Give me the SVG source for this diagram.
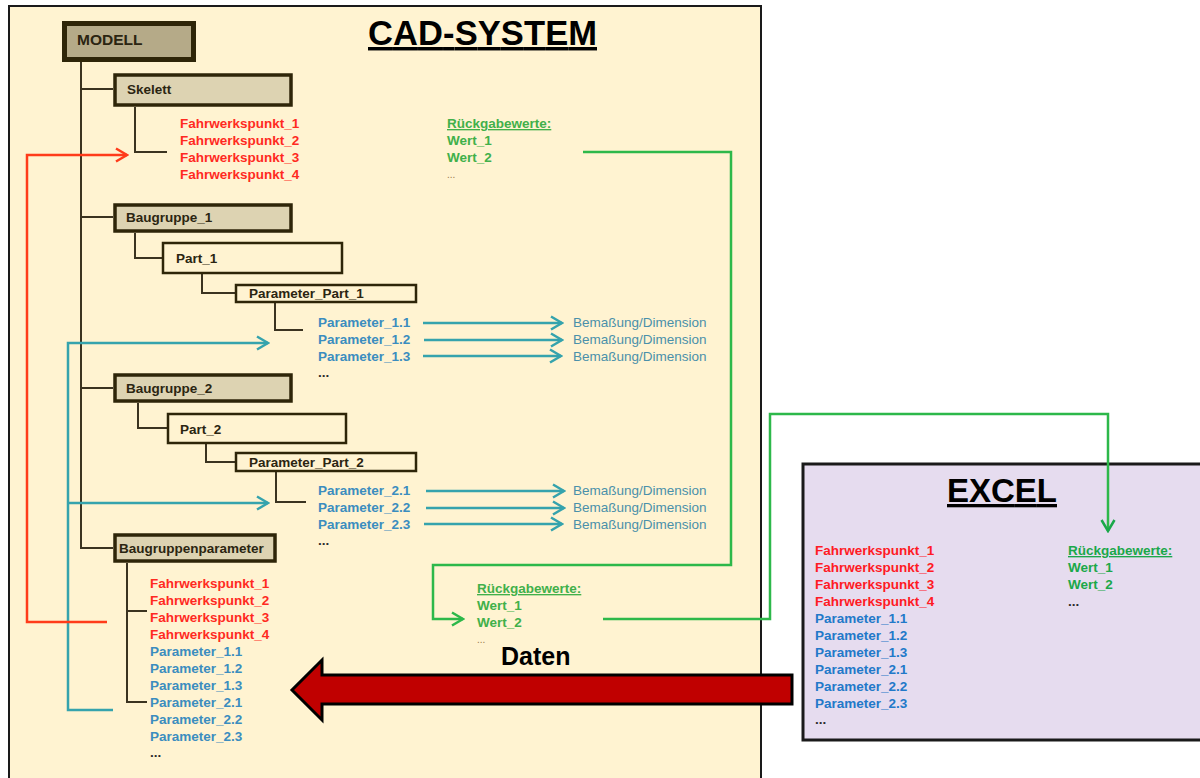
<svg xmlns="http://www.w3.org/2000/svg" width="1200" height="778" viewBox="0 0 1200 778">
<style>
  text { font-family: "Liberation Sans", Arial, sans-serif; }
  .bt { font-size: 13.5px; font-weight: bold; fill: #2b2511; }
  .tree { fill: none; stroke: #3b3320; stroke-width: 2; }
  .red { font-size: 13.5px; font-weight: bold; fill: #ff2a1f; }
  .par { font-size: 13.5px; font-weight: bold; fill: #3b8dbf; }
  .dim { font-size: 13.5px; fill: #4a90aa; }
  .grn { font-size: 13.5px; font-weight: bold; fill: #41b04a; }
  .xred { font-size: 13.5px; font-weight: bold; fill: #ff1a24; }
  .xpar { font-size: 13.5px; font-weight: bold; fill: #2279c9; }
  .xgrn { font-size: 13.5px; font-weight: bold; fill: #1ba84a; }
  .dots { font-size: 13.5px; font-weight: bold; fill: #2b2b2b; }
  .sdots { font-size: 10px; fill: #9a7a4a; }
  .cT { fill: none; stroke: #35a3ad; stroke-width: 2.5; }
  .cR { fill: none; stroke: #ff3b1a; stroke-width: 2.5; }
  .cG { fill: none; stroke: #2db84a; stroke-width: 2.5; }
</style>
<defs>
  <marker id="mT" viewBox="0 0 14 16" refX="12.5" refY="8" markerWidth="14" markerHeight="16" orient="auto" markerUnits="userSpaceOnUse">
    <path d="M1.5,1.5 L12.5,8 L1.5,14.5" fill="none" stroke="#35a3ad" stroke-width="2.5"/>
  </marker>
  <marker id="mR" viewBox="0 0 14 16" refX="12.5" refY="8" markerWidth="14" markerHeight="16" orient="auto" markerUnits="userSpaceOnUse">
    <path d="M1.5,1.5 L12.5,8 L1.5,14.5" fill="none" stroke="#ff3b1a" stroke-width="2.5"/>
  </marker>
  <marker id="mG" viewBox="0 0 14 16" refX="12.5" refY="8" markerWidth="14" markerHeight="16" orient="auto" markerUnits="userSpaceOnUse">
    <path d="M1.5,1.5 L12.5,8 L1.5,14.5" fill="none" stroke="#2db84a" stroke-width="2.5"/>
  </marker>
  <marker id="mG2" viewBox="0 0 14 16" refX="12.5" refY="8" markerWidth="14" markerHeight="16" orient="auto" markerUnits="userSpaceOnUse">
    <path d="M1.5,1.5 L12.5,8 L1.5,14.5" fill="none" stroke="#1aa84a" stroke-width="2.5"/>
  </marker>
</defs>

<rect width="1200" height="778" fill="#ffffff"/>

<!-- CAD system panel -->
<g id="cad-system">
  <rect x="9" y="6" width="752" height="790" fill="#fff3d1" stroke="#1a1a1a" stroke-width="2"/>
  <text x="368" y="45" font-size="34.5" font-weight="bold" fill="#000" text-decoration="underline" textLength="229">CAD-SYSTEM</text>
</g>

<!-- EXCEL panel -->
<g id="excel">
  <rect x="803" y="464" width="420" height="276" fill="#e6dcef" stroke="#1a1a1a" stroke-width="3"/>
  <text x="947" y="502" font-size="33" font-weight="bold" fill="#000" text-decoration="underline" textLength="110">EXCEL</text>
  <text class="xred" x="815" y="555">Fahrwerkspunkt_1</text>
  <text class="xred" x="815" y="572">Fahrwerkspunkt_2</text>
  <text class="xred" x="815" y="589">Fahrwerkspunkt_3</text>
  <text class="xred" x="815" y="606">Fahrwerkspunkt_4</text>
  <text class="xpar" x="815" y="623">Parameter_1.1</text>
  <text class="xpar" x="815" y="640">Parameter_1.2</text>
  <text class="xpar" x="815" y="657">Parameter_1.3</text>
  <text class="xpar" x="815" y="674">Parameter_2.1</text>
  <text class="xpar" x="815" y="691">Parameter_2.2</text>
  <text class="xpar" x="815" y="708">Parameter_2.3</text>
  <text class="dots" x="815" y="724">...</text>
  <text class="xgrn" x="1068" y="555" text-decoration="underline">Rückgabewerte:</text>
  <text class="xgrn" x="1068" y="572">Wert_1</text>
  <text class="xgrn" x="1068" y="589">Wert_2</text>
  <text class="dots" x="1068" y="606">...</text>
</g>

<!-- tree lines -->
<g id="tree-lines">
  <path class="tree" d="M81,62 V548 H113"/>
  <path class="tree" d="M81,89 H113"/>
  <path class="tree" d="M81,217 H113"/>
  <path class="tree" d="M81,388 H113"/>
  <path class="tree" d="M135,107 V152 H167"/>
  <path class="tree" d="M135,233 V258 H163"/>
  <path class="tree" d="M202,274 V293 H236"/>
  <path class="tree" d="M275,303 V330 H303"/>
  <path class="tree" d="M138,403 V428 H168"/>
  <path class="tree" d="M206,444 V462 H236"/>
  <path class="tree" d="M276,472 V502 H306"/>
  <path class="tree" d="M127,563 V702 H147"/>
  <path class="tree" d="M127,611 H147"/>
</g>

<!-- nodes -->
<g id="modell">
  <rect x="64.5" y="23.5" width="129" height="36" fill="#b5aa88" stroke="#2e2508" stroke-width="5"/>
  <text class="bt" x="77" y="45" style="font-size:15.5px">MODELL</text>
</g>
<g id="skelett">
  <rect x="115" y="75" width="176" height="30" fill="#ddd3b2" stroke="#2e2508" stroke-width="3.5"/>
  <text class="bt" x="127" y="94">Skelett</text>
</g>
<g id="skelett-items">
  <text class="red" x="180" y="128">Fahrwerkspunkt_1</text>
  <text class="red" x="180" y="145">Fahrwerkspunkt_2</text>
  <text class="red" x="180" y="162">Fahrwerkspunkt_3</text>
  <text class="red" x="180" y="179">Fahrwerkspunkt_4</text>
</g>
<g id="rueckgabe-top">
  <text class="grn" x="447" y="128" text-decoration="underline">Rückgabewerte:</text>
  <text class="grn" x="447" y="145">Wert_1</text>
  <text class="grn" x="447" y="162">Wert_2</text>
  <text class="sdots" x="447" y="178">...</text>
</g>
<g id="baugruppe1">
  <rect x="115" y="205" width="176" height="26" fill="#ddd3b2" stroke="#2e2508" stroke-width="3.5"/>
  <text class="bt" x="126" y="222">Baugruppe_1</text>
</g>
<g id="part1">
  <rect x="163" y="243" width="179" height="30" fill="#fff3d1" stroke="#2e2508" stroke-width="2.5"/>
  <text class="bt" x="176" y="263">Part_1</text>
</g>
<g id="parameter-part1">
  <rect x="236" y="285" width="180" height="17" fill="#fff3d1" stroke="#2e2508" stroke-width="2.5"/>
  <text class="bt" x="249" y="298">Parameter_Part_1</text>
</g>
<g id="params1">
  <text class="par" x="318" y="327">Parameter_1.1</text>
  <text class="par" x="318" y="344">Parameter_1.2</text>
  <text class="par" x="318" y="361">Parameter_1.3</text>
  <text class="dots" x="318" y="377">...</text>
  <text class="dim" x="573" y="327">Bemaßung/Dimension</text>
  <text class="dim" x="573" y="344">Bemaßung/Dimension</text>
  <text class="dim" x="573" y="361">Bemaßung/Dimension</text>
</g>
<g id="baugruppe2">
  <rect x="115" y="375" width="176" height="26" fill="#ddd3b2" stroke="#2e2508" stroke-width="3.5"/>
  <text class="bt" x="126" y="393">Baugruppe_2</text>
</g>
<g id="part2">
  <rect x="168" y="414" width="178" height="29" fill="#fff3d1" stroke="#2e2508" stroke-width="2.5"/>
  <text class="bt" x="180" y="434">Part_2</text>
</g>
<g id="parameter-part2">
  <rect x="236" y="453" width="180" height="18" fill="#fff3d1" stroke="#2e2508" stroke-width="2.5"/>
  <text class="bt" x="249" y="467">Parameter_Part_2</text>
</g>
<g id="params2">
  <text class="par" x="318" y="495">Parameter_2.1</text>
  <text class="par" x="318" y="512">Parameter_2.2</text>
  <text class="par" x="318" y="529">Parameter_2.3</text>
  <text class="dots" x="318" y="545">...</text>
  <text class="dim" x="573" y="495">Bemaßung/Dimension</text>
  <text class="dim" x="573" y="512">Bemaßung/Dimension</text>
  <text class="dim" x="573" y="529">Bemaßung/Dimension</text>
</g>
<g id="baugruppenparameter">
  <rect x="115" y="535" width="160" height="26" fill="#ddd3b2" stroke="#2e2508" stroke-width="3.5"/>
  <text class="bt" x="119" y="553">Baugruppenparameter</text>
</g>
<g id="bgp-items">
  <text class="red" x="150" y="588">Fahrwerkspunkt_1</text>
  <text class="red" x="150" y="605">Fahrwerkspunkt_2</text>
  <text class="red" x="150" y="622">Fahrwerkspunkt_3</text>
  <text class="red" x="150" y="639">Fahrwerkspunkt_4</text>
  <text class="par" x="150" y="656">Parameter_1.1</text>
  <text class="par" x="150" y="673">Parameter_1.2</text>
  <text class="par" x="150" y="690">Parameter_1.3</text>
  <text class="par" x="150" y="707">Parameter_2.1</text>
  <text class="par" x="150" y="724">Parameter_2.2</text>
  <text class="par" x="150" y="741">Parameter_2.3</text>
  <text class="dots" x="150" y="757">...</text>
</g>
<g id="rueckgabe-bottom">
  <text class="grn" x="477" y="593" text-decoration="underline">Rückgabewerte:</text>
  <text class="grn" x="477" y="610">Wert_1</text>
  <text class="grn" x="477" y="627">Wert_2</text>
  <text class="sdots" x="477" y="643">...</text>
</g>

<!-- connectors -->
<g id="connectors">
  <path class="cT" d="M423,323 H562" marker-end="url(#mT)"/>
  <path class="cT" d="M424,340 H562" marker-end="url(#mT)"/>
  <path class="cT" d="M423,356 H561" marker-end="url(#mT)"/>
  <path class="cT" d="M426,491 H564" marker-end="url(#mT)"/>
  <path class="cT" d="M426,508 H564" marker-end="url(#mT)"/>
  <path class="cT" d="M424,524 H562" marker-end="url(#mT)"/>
  <path class="cT" d="M113,710 H68 V343 H268" marker-end="url(#mT)"/>
  <path class="cT" d="M68,503 H268" marker-end="url(#mT)"/>
  <path class="cR" d="M107,622 H27 V155 H127" marker-end="url(#mR)"/>
  <path class="cG" d="M583,152 H731 V565 H433 V619 H463" marker-end="url(#mG)"/>
  <path class="cG" d="M603,619 H770 V414 H1108 V531" marker-end="url(#mG2)"/>
</g>

<!-- Daten arrow -->
<g id="daten-arrow">
  <path d="M792,675 H322 V660 L292,690 L322,720 V704 H792 Z" fill="#c00000" stroke="#000" stroke-width="3" stroke-linejoin="miter"/>
  <text x="501" y="665" font-size="25" font-weight="bold" fill="#000">Daten</text>
</g>
</svg>
